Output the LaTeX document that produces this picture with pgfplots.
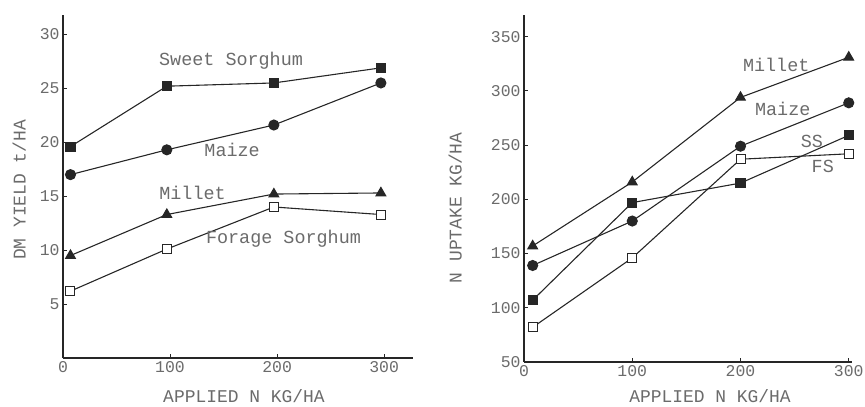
\documentclass[border=0pt]{standalone}
\usepackage{pgfplots}
\pgfplotsset{compat=1.18}
\usepackage{fontspec}
\setmainfont{Liberation Mono}
\definecolor{txt}{gray}{0.42}
\tikzset{ann/.style={font=\fontsize{18.5}{19}\selectfont, text=txt}}
\begin{document}
\begin{tikzpicture}
\path[use as bounding box] (0,0) rectangle (865bp,407bp);
\pgfplotsset{
  common/.style={
    scale only axis,
    axis lines=left,
    axis line style={-, line width=2pt, black!85},
    tick style={black!85, line width=1pt},
    major tick length=4bp,
    tick align=inside,
    /pgf/number format/assume math mode=true,
    ticklabel style={font=\fontsize{16.5}{17}\selectfont, text=txt},
    label style={font=\fontsize{18}{19}\selectfont, text=txt},
    every axis plot/.append style={line width=1.1pt, black!85},
    clip=false,
  },
  fill sq/.style={mark=square*, mark size=4.5bp, mark options={fill=black!85, draw=black!85}},
  open sq/.style={mark=square*, mark size=4.5bp, mark options={fill=white, draw=black!85, line width=1pt}},
  circ/.style={mark=*, mark size=5bp, mark options={fill=black!85, draw=black!85}},
  tri/.style={mark=triangle*, mark size=5.5bp, mark options={fill=black!85, draw=black!85}},
}
% ---------------- Left panel ----------------
\begin{axis}[common,
  at={(63bp,49bp)}, anchor=south west,
  width=350bp, height=343bp,
  xmin=0, xmax=327, ymin=0, ymax=31.8,
  xtick={0,100,200,300}, ytick={5,10,15,20,25,30},
  xlabel={APPLIED N KG/HA},
  ylabel={DM YIELD t/HA},
  xlabel style={at={(axis description cs:0.517,-0.110)}, anchor=center},
  ylabel style={at={(axis description cs:-0.125,0.49)}, anchor=center, rotate=0},
]
\addplot[fill sq] coordinates {(7,19.6) (97,25.2) (197,25.5) (297,26.9)};
\addplot[circ] coordinates {(7,17.0) (97,19.3) (197,21.6) (297,25.5)};
\addplot[tri] coordinates {(7,9.5) (97,13.3) (197,15.2) (297,15.3)};
\addplot[open sq] coordinates {(7,6.2) (97,10.1) (197,14.0) (297,13.3)};
\node[ann] at (axis cs:157,27.6) {Sweet Sorghum};
\node[ann] at (axis cs:158,19.3) {Maize};
\node[ann] at (axis cs:121,15.3) {Millet};
\node[ann] at (axis cs:206,11.1) {Forage Sorghum};
\end{axis}
% ---------------- Right panel ----------------
\begin{axis}[common,
  at={(524bp,45bp)}, anchor=south west,
  width=328bp, height=347bp,
  xmin=0, xmax=303, ymin=50, ymax=370,
  xtick={0,100,200,300}, ytick={50,100,...,350},
  xlabel={APPLIED N KG/HA},
  ylabel={N UPTAKE KG/HA},
  xlabel style={at={(axis description cs:0.567,-0.098)}, anchor=center},
  ylabel style={at={(axis description cs:-0.21,0.444)}, anchor=center, rotate=0},
]
\addplot[tri] coordinates {(8,157) (100,216) (200,294) (300,331)};
\addplot[circ] coordinates {(8,139) (100,180) (200,249) (300,289)};
\addplot[fill sq] coordinates {(8,107) (100,197) (200,215) (300,259)};
\addplot[open sq] coordinates {(8,82) (100,146) (200,237) (300,242)};
\node[ann] at (axis cs:233,324) {Millet};
\node[ann] at (axis cs:239,283) {Maize};
\node[ann] at (axis cs:266,253) {SS};
\node[ann] at (axis cs:276,230) {FS};
\end{axis}
\end{tikzpicture}
\end{document}
